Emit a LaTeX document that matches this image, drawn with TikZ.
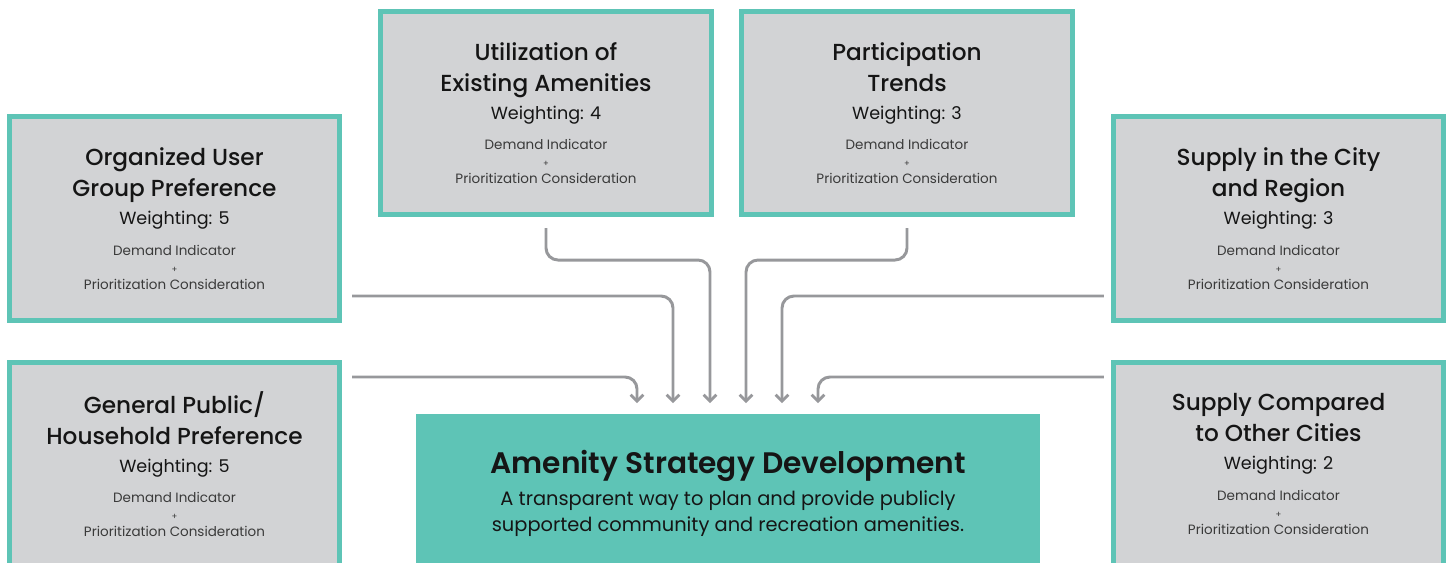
\documentclass[tikz,border=0pt]{standalone}
\usepackage{fontspec}
\setmainfont{Poppins}
\newfontfamily\medfont{Poppins Medium}
\newfontfamily\semifont{Poppins SemiBold}
\usetikzlibrary{arrows.meta,calc}
\definecolor{amteal}{HTML}{5EC4B6}
\definecolor{amgray}{HTML}{D2D3D5}
\definecolor{amline}{HTML}{97989B}
\definecolor{amtext}{HTML}{3A3A3A}
\definecolor{amdark}{HTML}{151515}
\newcommand{\tightlines}{\lineskiplimit=-50pt\relax}
\newcommand{\factortitle}{\color{amdark}\medfont\fontsize{16.5}{20}\selectfont}
\newcommand{\factorweight}{\color{amdark}\fontsize{12.5}{15}\selectfont}
\newcommand{\factorlabel}[3]{%
  {\factortitle #1}\\[9.9pt]
  {\factortitle #2}\\[7.9pt]
  {\factorweight Weighting: #3}\\[9.6pt]
  Demand Indicator\\
  {\fontsize{6}{7}\selectfont +}\\
  Prioritization Consideration}
\tikzset{
  factor/.style={draw=amteal, fill=amgray, line width=3.56pt,
    minimum width=8.25cm, minimum height=5.075cm, align=center,
    text=amtext, font=\tightlines\fontsize{9.6}{12.1}\selectfont},
  strategy/.style={fill=amteal, minimum width=15.6cm, minimum height=3.925cm,
    align=center, text=amdark,
    font=\tightlines\fontsize{13.8}{17.8}\selectfont},
  conn/.style={draw=amline, line width=2.1pt, rounded corners=0.3cm,
    -{Straight Barb[length=4.5pt,width=9pt]}}
}
\begin{document}
\begin{tikzpicture}[x=0.025cm, y=-0.025cm]
    \useasboundingbox (0,0) rectangle (1448,563);
    \clip (0,0) rectangle (1448,563);
    % input factors
    \node[factor] (org) at (174.5,218.5) {\factorlabel{Organized User}{Group Preference}{5}};
    \node[factor] (gen) at (174.5,464) {\factorlabel{General Public/}{Household Preference}{5}};
    \node[factor] (util) at (546,113) {\factorlabel{Utilization of}{Existing Amenities}{4}};
    \node[factor] (part) at (907,113) {\factorlabel{Participation}{Trends}{3}};
    \node[factor] (city) at (1278.5,218.5) {\factorlabel{Supply in the City}{and Region}{3}};
    \node[factor] (comp) at (1278.5,464) {\factorlabel{Supply Compared}{to Other Cities}{2}};
    % strategy
    \node[strategy] (asd) at (728,493) {{\semifont\fontsize{21.1}{24}\selectfont Amenity Strategy Development}\\[5.5pt]
        A transparent way to plan and provide publicly\\
        supported community and recreation amenities.};
    \foreach \i/\dx in {1/-91,2/-55,3/-18,4/18,5/54,6/90}
        \coordinate (in\i) at ($(asd.north)+(\dx,-11)$);
    % connectors
    \draw[conn] ($(gen.east)+(10,-87)$) -| (in1);
    \draw[conn] ($(org.east)+(10,77.5)$) -| (in2);
    \draw[conn] ($(util.south)+(0,11)$) -- ++(0,32) -| (in3);
    \draw[conn] ($(part.south)+(0,11)$) -- ++(0,32) -| (in4);
    \draw[conn] ($(city.west)+(-7,77.5)$) -| (in5);
    \draw[conn] ($(comp.west)+(-7,-87)$) -| (in6);
\end{tikzpicture}
\end{document}
